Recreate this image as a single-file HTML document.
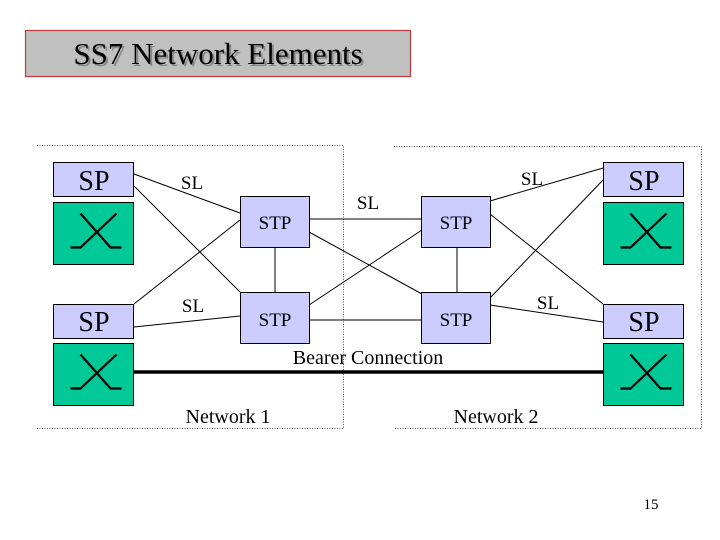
<!DOCTYPE html>
<html><head><meta charset="utf-8"><style>
body{margin:0;background:#fff;}
svg{display:block;}
text{font-family:"Liberation Serif","Times New Roman",serif;}
</style></head><body>
<svg width="720" height="540" viewBox="0 0 720 540" xmlns="http://www.w3.org/2000/svg" font-family="Liberation Serif, serif">
<defs>
<g id="sw">
<rect x="0" y="0" width="80" height="62" fill="#00c896" stroke="#000" stroke-width="1"/>
<polyline points="17,45 27,45 63,11" fill="none" stroke="#000" stroke-width="2.2"/>
<polyline points="27,11 57,45 68,45" fill="none" stroke="#000" stroke-width="2.2"/>
</g>
</defs>
<rect x="25.5" y="30.5" width="385" height="46" fill="#c0c0c0" stroke="#c0393b" stroke-width="1.2"/>
<text x="220" y="66" font-size="31" text-anchor="middle" fill="#888">SS7 Network Elements</text>
<text x="218" y="64" font-size="31" text-anchor="middle" fill="#000">SS7 Network Elements</text>

<path d="M37,145.5 H343.5 V428.5 H37" fill="none" stroke="#555" stroke-dasharray="1,1.5"/>
<path d="M394,146.5 H701.5 V428.5 H394" fill="none" stroke="#555" stroke-dasharray="1,1.5"/>

<g stroke="#000" stroke-width="1" fill="none">
<line x1="134" y1="174" x2="240" y2="213"/>
<line x1="134" y1="186" x2="240" y2="292"/>
<line x1="134" y1="304" x2="240" y2="220"/>
<line x1="134" y1="327" x2="240" y2="316"/>
<line x1="309" y1="219" x2="422" y2="219"/>
<line x1="309" y1="232" x2="422" y2="294"/>
<line x1="309" y1="305" x2="422" y2="230"/>
<line x1="309" y1="320" x2="422" y2="320"/>
<line x1="275" y1="247" x2="275" y2="292"/>
<line x1="457" y1="247" x2="457" y2="293"/>
<line x1="490" y1="201" x2="603" y2="168"/>
<line x1="490" y1="214" x2="603" y2="304"/>
<line x1="490" y1="298" x2="603" y2="180"/>
<line x1="490" y1="305" x2="603" y2="322"/>
</g>
<line x1="133" y1="372" x2="603" y2="372" stroke="#000" stroke-width="3.5"/>

<g fill="#ccccff" stroke="#000" stroke-width="1">
<rect x="53.5" y="162.5" width="80" height="34"/>
<rect x="53.5" y="304.5" width="80" height="34"/>
<rect x="603.5" y="162.5" width="80" height="34"/>
<rect x="603.5" y="304.5" width="80" height="34"/>
<rect x="240.5" y="196.5" width="69" height="51"/>
<rect x="421.5" y="196.5" width="69" height="51"/>
<rect x="240.5" y="292.5" width="69" height="51"/>
<rect x="421.5" y="292.5" width="69" height="51"/>
</g>
<use href="#sw" x="53.5" y="202.5"/>
<use href="#sw" x="53.5" y="343.5"/>
<use href="#sw" x="603.5" y="202.5"/>
<use href="#sw" x="603.5" y="343.5"/>

<g font-size="28" text-anchor="middle">
<text x="94" y="190">SP</text>
<text x="94" y="331">SP</text>
<text x="644" y="190">SP</text>
<text x="644" y="331">SP</text>
</g>
<g font-size="19" text-anchor="middle">
<text x="275" y="229">STP</text>
<text x="456" y="229">STP</text>
<text x="275" y="326">STP</text>
<text x="456" y="326">STP</text>
<text x="192" y="189">SL</text>
<text x="368" y="209">SL</text>
<text x="532" y="185">SL</text>
<text x="193" y="312">SL</text>
<text x="548" y="309">SL</text>
</g>
<g font-size="20" text-anchor="middle">
<text x="368" y="364">Bearer Connection</text>
<text x="228" y="423">Network 1</text>
<text x="496" y="423">Network 2</text>
</g>
<text x="651" y="509" font-size="15" text-anchor="middle">15</text>
</svg>
</body></html>
